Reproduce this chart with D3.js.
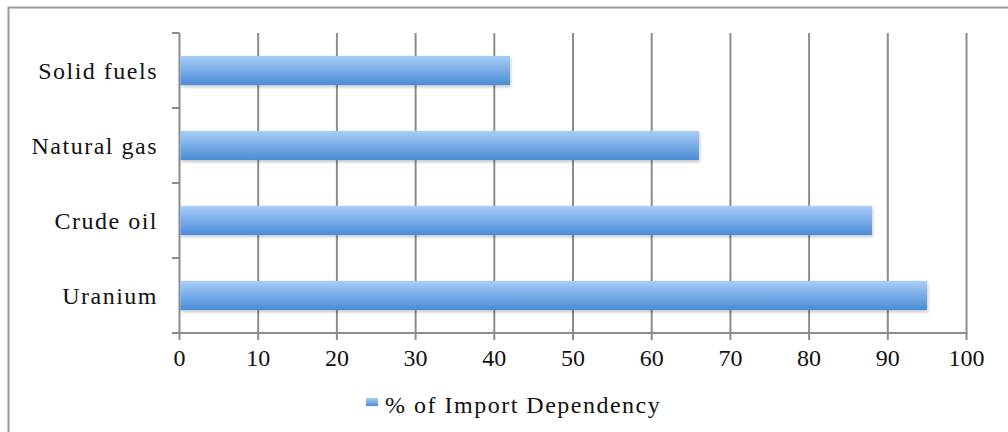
<!DOCTYPE html>
<html><head><meta charset="utf-8">
<script src="https://cdn.jsdelivr.net/npm/d3@7"></script>
<style>body{margin:0;background:#fff}svg{display:block}</style>
</head><body>
<script>
const categories = ["Solid fuels","Natural gas","Crude oil","Uranium"];
const values = [42, 66, 88, 95];
const xTicks = [0,10,20,30,40,50,60,70,80,90,100];
const seriesName = "% of Import Dependency";

const W = 1008, H = 432;
const svg = d3.select("body").append("svg").attr("width", W).attr("height", H);
const font = "Liberation Serif";

const defs = svg.append("defs");
const g1 = defs.append("linearGradient").attr("id","barGrad").attr("x1",0).attr("y1",0).attr("x2",0).attr("y2",1);
g1.append("stop").attr("offset","0%").attr("stop-color","#a9cdf8");
g1.append("stop").attr("offset","100%").attr("stop-color","#4a8cd6");
const f = defs.append("filter").attr("id","sh").attr("x","-5%").attr("y","-20%").attr("width","110%").attr("height","160%");
f.append("feDropShadow").attr("dx",1).attr("dy",2).attr("stdDeviation",1.5).attr("flood-color","#000").attr("flood-opacity",0.22);

// border (top & left visible)
svg.append("path").attr("d","M8.5,432 L8.5,7.5 L1008,7.5").attr("fill","none").attr("stroke","#9a9a9a").attr("stroke-width",2);

const x = d3.scaleLinear().domain([0,100]).range([179.5, 966.5]);
const y = d3.scaleBand().domain(categories).range([33, 333]).paddingInner(0.61).paddingOuter(0.305);
const yOuter = d3.scaleBand().domain(categories).range([33,333]);

// gridlines
svg.append("g").selectAll("line").data(xTicks.slice(1)).join("line")
  .attr("x1", d=>x(d)).attr("x2", d=>x(d)).attr("y1",33).attr("y2",340)
  .attr("stroke","#8c8c8c").attr("stroke-width",2);

// y axis
svg.append("line").attr("x1",x(0)).attr("x2",x(0)).attr("y1",33).attr("y2",340).attr("stroke","#8c8c8c").attr("stroke-width",2);
const yTickPos = categories.map(c=>yOuter(c)).concat([333]);
svg.append("g").selectAll("line").data(yTickPos).join("line")
  .attr("x1",172).attr("x2",x(0)).attr("y1",d=>d).attr("y2",d=>d)
  .attr("stroke","#8c8c8c").attr("stroke-width",2);
// x axis line
svg.append("line").attr("x1",172).attr("x2",x(100)+1).attr("y1",333).attr("y2",333).attr("stroke","#8c8c8c").attr("stroke-width",2);

// bars
svg.append("g").selectAll("rect").data(categories).join("rect")
  .attr("x", x(0)+1).attr("y", d=>y(d))
  .attr("width", (d,i)=>x(values[i])-x(0)-1).attr("height", y.bandwidth())
  .attr("fill","url(#barGrad)").attr("filter","url(#sh)");

// category labels
svg.append("g").selectAll("text").data(categories).join("text")
  .attr("x",158).attr("y",d=>yOuter(d)+yOuter.bandwidth()/2+8.5)
  .attr("text-anchor","end").attr("font-family",font).attr("font-size",24)
  .attr("letter-spacing",1.5).attr("fill","#111")
  .text(d=>d);

// x tick labels
svg.append("g").selectAll("text").data(xTicks).join("text")
  .attr("x",d=>x(d)).attr("y",366).attr("text-anchor","middle")
  .attr("font-family",font).attr("font-size",24).attr("fill","#111").text(d=>d);

// legend
svg.append("rect").attr("x",366).attr("y",398).attr("width",12).attr("height",8).attr("fill","url(#barGrad)");
svg.append("text").attr("x",385).attr("y",413).attr("font-family",font).attr("font-size",24)
  .attr("letter-spacing",1.5).attr("fill","#111").text(seriesName);
</script>
</body></html>
